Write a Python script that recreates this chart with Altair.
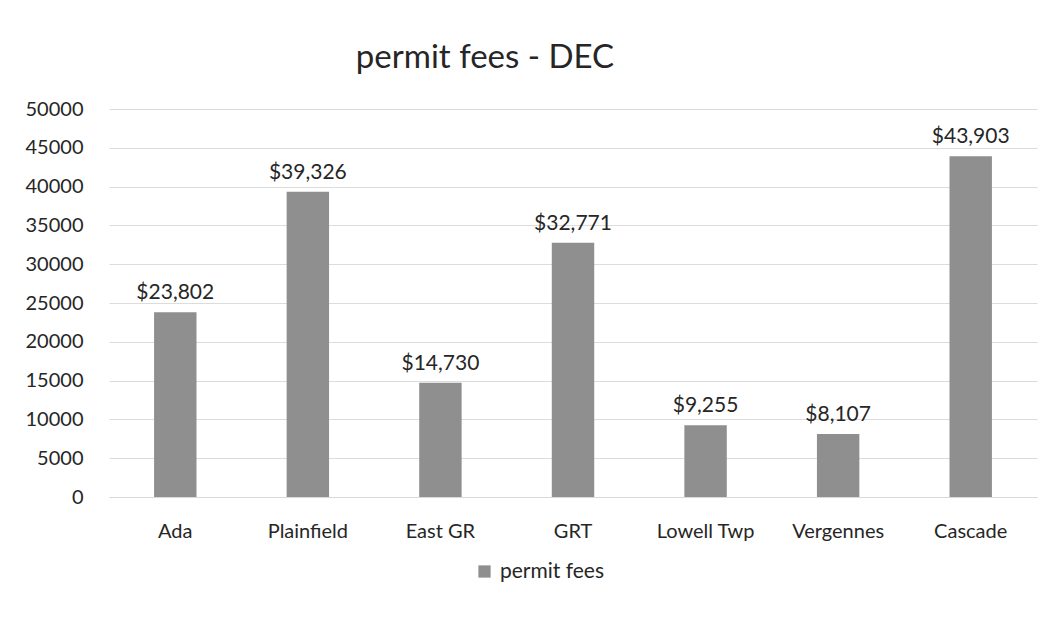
import altair as alt
import pandas as pd

categories = ["Ada", "Plainfield", "East GR", "GRT", "Lowell Twp", "Vergennes", "Cascade"]
values = [23802, 39326, 14730, 32771, 9255, 8107, 43903]
series = ["permit fees"] * len(categories)
y_ticks = [0, 5000, 10000, 15000, 20000, 25000, 30000, 35000, 40000, 45000, 50000]

df = pd.DataFrame({"town": categories, "fees": values, "series": series})

FONT = "Lato"
TXT = "#262626"
FS = 20

base = alt.Chart(df).encode(
    x=alt.X("town:N", sort=categories,
            scale=alt.Scale(paddingInner=0.68, paddingOuter=0.34),
            axis=alt.Axis(title=None, labelAngle=0, ticks=False, domain=True,
                          domainColor="#d9d9d9", labelPadding=24, labelFontSize=FS,
                          labelFont=FONT, labelColor=TXT, grid=False)),
    y=alt.Y("fees:Q", scale=alt.Scale(domain=[0, 50000], nice=False),
            axis=alt.Axis(title=None, values=y_ticks, ticks=False, domain=False,
                          labelPadding=26, labelFontSize=FS, labelFont=FONT,
                          labelColor=TXT, gridColor="#dcdcdc", gridWidth=1,
                          format="d")),
)

bars = base.mark_bar(color="#8f8f8f").encode(
    color=alt.Color("series:N", scale=alt.Scale(range=["#8f8f8f"]),
                    legend=alt.Legend(title=None, orient="none", legendX=365, legendY=452,
                                      symbolType="square", symbolSize=150,
                                      labelFontSize=21, labelFont=FONT, labelColor=TXT,
                                      symbolStrokeWidth=0, labelOffset=5))
)

labels = base.mark_text(baseline="bottom", dy=-9, fontSize=21, font=FONT, color=TXT).encode(
    text=alt.Text("fees:Q", format="$,.0f")
)

chart = alt.layer(bars, labels).properties(
    width=928,
    height=388,
    autosize=alt.AutoSizeParams(type="none"),
    padding={"left": 101, "top": 101, "right": 11, "bottom": 110},
    title=alt.TitleParams("permit fees - DEC", fontSize=33, font=FONT, fontWeight="normal",
                          color=TXT, anchor="middle", dx=-88, offset=24, frame="group"),
).configure(background="white").configure_view(strokeWidth=0, stroke=None)

chart.save("out.html", embed_options={"renderer": "svg", "actions": False})
